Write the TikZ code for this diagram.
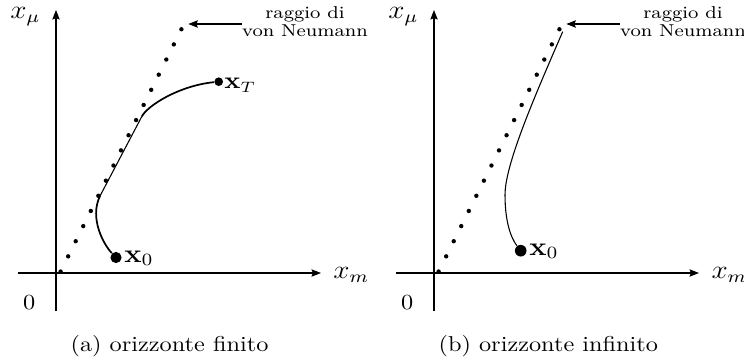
\documentclass[tikz,border=0pt]{standalone}
\usepackage{amsmath}
\usetikzlibrary{arrows.meta}

\begin{document}
\begin{tikzpicture}[
    x=0.465pt, y=-0.465pt,
    axis/.style={-{Stealth[length=4.4pt,width=3.4pt,inset=0.6pt]}, line width=0.5pt},
    lbl/.style={inner sep=0pt, xscale=1.13},
    axlbl/.style={lbl, font=\fontsize{11.5}{13}\selectfont},
    note/.style={lbl, align=center, font=\fontsize{8}{8.5}\selectfont},
    bigdot/.style={circle, fill, inner sep=0pt, minimum size=#1},
    traj/.style={line width=0.8pt},
    seg/.style={line width=0.5pt}
]
  \useasboundingbox (0,0) rectangle (744,362);

  % (a) finite horizon
  \begin{scope}
    % axes
    \coordinate (a-xs) at (18,273);
    \coordinate (a-xe) at (321,273);
    \coordinate (a-ys) at (56,311);
    \coordinate (a-ye) at (56,10);
    \draw[axis] (a-xs) -- (a-xe);
    \draw[axis] (a-ys) -- (a-ye);
    \node[axlbl, anchor=base west] (a-xm) at (333,278.3) {$x_m$};
    \node[axlbl, anchor=base west] (a-xmu) at (10,18.3) {$x_\mu$};
    \node[lbl, anchor=base] (a-zero) at (29.3,309) {$0$};

    % von Neumann ray
    \foreach \i in {0,...,16}
      \fill (60.6+7.55*\i, 271.5-15.14*\i) circle (2.2);
    \node[note] (a-ray) at (305,21.5) {raggio di\\von Neumann};
    \coordinate (a-tip) at (188.3,24);
    \draw[axis] (a-ray.west |- a-tip) -- (a-tip);

    % trajectory
    \node[bigdot=5.2pt] (a-x0) at (116,257.5) {};
    \node[bigdot=4pt] (a-xT) at (218.7,81.7) {};
    \node[lbl, anchor=base west, font=\fontsize{12}{14}\selectfont] (a-x0l) at (124,262) {$\mathbf{x}_0$};
    \node[lbl, anchor=base west, font=\fontsize{10.7}{13}\selectfont] (a-xTl) at (224,88.5) {$\mathbf{x}_T$};
    \coordinate (a-k1) at (100,196);
    \coordinate (a-k2) at (141.7,116.7);
    \draw[traj] (a-x0) .. controls (104,245) and (89,218.5) .. (a-k1);
    \draw[seg] (a-k1) -- (a-k2);
    \draw[traj] (a-k2) .. controls (147.1,105.9) and (178.7,85.7) .. (a-xT);

    \node[lbl, anchor=base] (a-cap) at (169.5,351.3) {(a) orizzonte finito};
  \end{scope}

  % (b) infinite horizon
  \begin{scope}[shift={(378,0)}]
    % axes
    \coordinate (b-xs) at (18,273);
    \coordinate (b-xe) at (321,273);
    \coordinate (b-ys) at (56,311);
    \coordinate (b-ye) at (56,10);
    \draw[axis] (b-xs) -- (b-xe);
    \draw[axis] (b-ys) -- (b-ye);
    \node[axlbl, anchor=base west] (b-xm) at (333,278.3) {$x_m$};
    \node[axlbl, anchor=base west] (b-xmu) at (10,18.3) {$x_\mu$};
    \node[lbl, anchor=base] (b-zero) at (29.3,309) {$0$};

    % von Neumann ray
    \foreach \i in {0,...,16}
      \fill (60.6+7.55*\i, 271.5-15.14*\i) circle (2.2);
    \node[note] (b-ray) at (305,21.5) {raggio di\\von Neumann};
    \coordinate (b-tip) at (188.3,24);
    \draw[axis] (b-ray.west |- b-tip) -- (b-tip);

    % trajectory
    \node[bigdot=5.4pt] (b-x0) at (142.7,250.7) {};
    \node[lbl, anchor=base west, font=\fontsize{12}{14}\selectfont] (b-x0l) at (151,255) {$\mathbf{x}_0$};
    \coordinate (b-k1) at (127,195);
    \coordinate (b-top) at (184.7,31.7);
    \draw[seg] (b-x0) .. controls (133,238) and (127,222) .. (b-k1)
      .. controls (127,165) and (155,100) .. (b-top);

    \node[lbl, anchor=base] (b-cap) at (170.3,351.3) {(b) orizzonte infinito};
  \end{scope}
\end{tikzpicture}
\end{document}
